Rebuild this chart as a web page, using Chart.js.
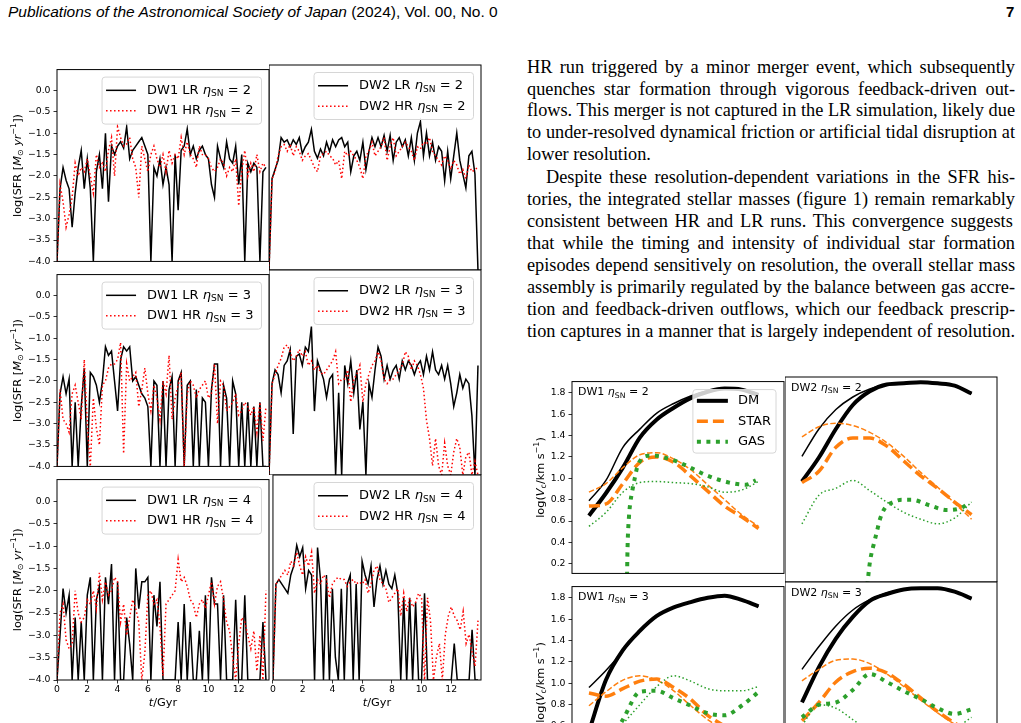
<!DOCTYPE html>
<html>
<head>
<meta charset="utf-8">
<title>SFR histories and rotation curves</title>
<script src="https://cdn.jsdelivr.net/npm/chart.js@4.4.1/dist/chart.umd.min.js"></script>
<style>
  html, body { margin: 0; padding: 0; }
  body { width: 1021px; height: 723px; overflow: hidden; background: #fff; position: relative; color: #000; }
  canvas { position: absolute; }
  #hdr { position: absolute; left: 8px; top: 3px; font: 15.5px "Liberation Sans", sans-serif; white-space: nowrap; }
  #pageno { position: absolute; left: 1006px; top: 3px; font: bold 15px "Liberation Sans", sans-serif; }
  .ln { position: absolute; font: 18.3px "Liberation Serif", serif; line-height: 22px; white-space: nowrap; }
</style>
</head>
<body>
<div id="hdr"><i>Publications of the Astronomical Society of Japan</i> (2024), Vol. 00, No. 0</div>
<div id="pageno">7</div>
<script>
// ---- text column ----
var textLines = [
  [69, 0, true, 'HR run triggered by a minor merger event, which subsequently'],
  [91, 0, true, 'quenches star formation through vigorous feedback-driven out-'],
  [112, 0, true, 'flows. This merger is not captured in the LR simulation, likely due'],
  [134, 0, true, 'to under-resolved dynamical friction or artificial tidal disruption at'],
  [156, 0, false, 'lower resolution.'],
  [179, 19, true, 'Despite these resolution-dependent variations in the SFR his-'],
  [201, 0, true, 'tories, the integrated stellar masses (figure 1) remain remarkably'],
  [223, 0, true, 'consistent between HR and LR runs.  This convergence suggests'],
  [245, 0, true, 'that while the timing and intensity of individual star formation'],
  [267, 0, true, 'episodes depend sensitively on resolution, the overall stellar mass'],
  [289, 0, true, 'assembly is primarily regulated by the balance between gas accre-'],
  [311, 0, true, 'tion and feedback-driven outflows, which our feedback prescrip-'],
  [333, 0, true, 'tion captures in a manner that is largely independent of resolution.']
];

// ---- SFR histories (log SFR per 0.2 Gyr) ----
var times = [0, 0.2, 0.4, 0.6, 0.8, 1.0, 1.2, 1.4, 1.6, 1.8,
  2.0, 2.2, 2.4, 2.6, 2.8, 3.0, 3.2, 3.4, 3.6, 3.8,
  4.0, 4.2, 4.4, 4.6, 4.8, 5.0, 5.2, 5.4, 5.6, 5.8,
  6.0, 6.2, 6.4, 6.6, 6.8, 7.0, 7.2, 7.4, 7.6, 7.8,
  8.0, 8.2, 8.4, 8.6, 8.8, 9.0, 9.2, 9.4, 9.6, 9.8,
  10.0, 10.2, 10.4, 10.6, 10.8, 11.0, 11.2, 11.4, 11.6, 11.8,
  12.0, 12.2, 12.4, 12.6, 12.8, 13.0, 13.2, 13.4, 13.6, 13.8];
var timeTicks = [0, 2, 4, 6, 8, 10, 12];
var sfrTicks = [0, -0.5, -1, -1.5, -2, -2.5, -3, -3.5, -4];

var dw1LR2 = [-4, -2.3, -1.8, -2.1, -2.3, -3.2, -2.4, -1.8, -1.4, -2.3,
  -1.6, -2.3, -4, -1.9, -1.5, -2.3, -1.0, -2.6, -1.3, -1.5,
  -1.3, -1.2, -1.35, -0.85, -1.6, -1.4, -1.3, -1.2, -1.1, -1.3,
  -1.5, -4, -1.8, -2.0, -1.6, -2.2, -1.8, -2.2, -4, -1.5,
  -2.8, -1.4, -1.3, -0.9, -1.5, -1.3, -1.6, -1.4, -1.3, -1.5,
  -1.6, -2.2, -2.5, -1.3, -1.6, -1.8, -1.2, -1.6, -1.7, -1.3,
  -2.2, -1.5, -4, -1.7, -1.9, -1.7, -1.8, -4, -1.9, -1.8];
var dw1HR2 = [-4, -2.2, -2.6, -3.2, -2.9, -2.5, -1.7, -2.0, -1.8, -1.9,
  -1.6, -2.0, -2.4, -1.5, -1.8, -1.7, -1.9, -1.4, -1.1, -2.0,
  -0.85, -1.1, -1.3, -1.25, -1.1, -1.6, -1.8, -2.5, -1.3, -1.6,
  -1.9, -1.5, -1.3, -1.6, -1.8, -1.5, -1.9, -1.4, -1.7, -1.5,
  -1.6, -1.1, -1.5, -1.2, -1.5, -1.6, -1.8, -1.3, -1.5, -1.5,
  -1.6, -1.8, -1.9, -1.8, -1.6, -1.7, -2.0, -1.8, -1.9, -1.6,
  -2.7, -1.9, -1.4, -2.0, -1.7, -1.9, -1.5, -1.9, -1.7, -1.8];
var dw2LR2 = [-4, -2.0, -1.8, -1.6, -1.1, -1.2, -1.15, -1.3, -1.15, -1.25,
  -1.1, -1.45, -1.3, -1.2, -0.92, -1.4, -1.55, -1.35, -1.5, -1.2,
  -1.4, -1.15, -1.3, -1.15, -1.1, -1.3, -1.2, -1.85, -1.5, -1.4,
  -1.6, -1.2, -1.8, -1.4, -1.1, -1.3, -1.1, -1.3, -1.05, -1.4,
  -1.05, -1.6, -1.2, -1.1, -1.3, -1.15, -1.5, -1.1, -1.6, -1.0,
  -0.75, -1.5, -1.0, -1.5, -1.2, -1.6, -1.3, -1.4, -2.05, -1.4,
  -2.0, -1.5, -1.0, -1.6, -1.9, -2.2, -1.5, -1.4, -1.9, -4];
var dw2HR2 = [-4, -2.0, -1.85, -1.5, -1.3, -1.25, -1.4, -1.25, -1.5, -1.3,
  -1.4, -1.6, -1.5, -1.45, -1.6, -1.75, -1.85, -1.5, -1.45, -1.4,
  -1.5, -1.55, -1.7, -1.6, -2.0, -1.4, -1.5, -1.4, -1.5, -1.6,
  -1.75, -2.0, -1.5, -1.4, -1.2, -1.5, -1.4, -1.3, -1.1, -1.6,
  -1.3, -1.1, -1.5, -1.4, -1.3, -1.2, -1.3, -1.4, -1.6, -1.3,
  -1.35, -1.2, -1.25, -1.1, -1.4, -1.5, -1.6, -1.7, -1.5, -1.6,
  -1.8, -1.6, -1.7, -1.9, -1.8, -2.0, -1.7, -1.85, -1.8, -1.75];
var dw1LR3 = [-4, -2.3, -1.9, -2.3, -1.95, -4, -2.5, -4, -2.6, -1.7,
  -4, -1.8, -1.9, -2.1, -2.5, -2.0, -1.2, -1.4, -1.3, -2.0,
  -2.7, -1.5, -1.2, -1.3, -1.2, -2.0, -1.9, -2.1, -2.3, -2.4,
  -2.6, -4, -2.0, -2.1, -4, -2.0, -4, -2.2, -1.9, -4,
  -2.0, -1.8, -4, -2.1, -2.0, -4, -2.2, -4, -2.4, -2.5,
  -4, -2.2, -1.6, -1.6, -4, -2.1, -2.4, -4, -2.0, -2.3,
  -4, -2.5, -4, -2.5, -4, -2.6, -4, -2.5, -4, -4];
var dw1HR3 = [-4, -2.2, -2.9, -3.0, -3.2, -2.3, -2.1, -2.5, -2.9, -1.5,
  -3.0, -4, -2.4, -3.1, -3.5, -2.1, -2.0, -1.7, -1.6, -1.6,
  -1.5, -1.1, -3.7, -1.6, -2.0, -1.9, -1.8, -2.6, -2.2, -1.7,
  -2.3, -2.7, -2.1, -2.4, -2.9, -2.0, -2.3, -1.4, -2.9, -2.4,
  -2.1, -1.8, -4, -2.3, -2.0, -2.1, -2.4, -2.2, -2.1, -2.0,
  -2.4, -2.3, -1.6, -3.0, -2.0, -2.1, -2.7, -2.6, -2.5, -2.3,
  -2.8, -2.7, -2.5, -2.6, -2.8, -2.6, -3.2, -2.5, -3.4, -2.6];
var dw2LR3 = [-4, -2.0, -1.7, -1.8, -2.2, -1.6, -1.5, -1.25, -3.1, -1.4,
  -1.35, -1.6, -1.2, -1.3, -0.75, -2.6, -1.5, -1.7, -1.9, -2.3,
  -1.9, -1.8, -4, -2.2, -4, -1.6, -2.0, -1.5, -2.2, -1.7,
  -3.0, -2.4, -4, -2.0, -2.3, -1.7, -1.2, -1.4, -1.9, -1.6,
  -1.9, -1.7, -1.6, -1.9, -1.5, -1.7, -1.5, -1.6, -1.8, -1.6,
  -1.5, -1.8, -1.4, -1.7, -1.3, -1.7, -1.8, -1.6, -1.9, -1.6,
  -2.0, -2.5, -2.2, -1.8, -2.1, -1.9, -2.0, -2.7, -4, -1.6];
var dw2HR3 = [-4, -2.0, -1.8, -1.6, -1.45, -1.2, -1.15, -1.3, -1.5, -1.4,
  -1.25, -1.4, -1.3, -1.6, -1.5, -1.7, -1.6, -1.75, -1.8, -1.7,
  -1.6, -1.5, -1.3, -2.0, -1.9, -1.9, -1.7, -2.4, -1.9, -1.8,
  -1.6, -2.4, -2.0, -1.8, -1.6, -1.5, -1.3, -1.5, -1.9, -2.0,
  -1.9, -1.9, -1.8, -1.7, -1.6, -1.3, -1.4, -1.7, -1.5, -1.6,
  -1.8, -2.1, -2.8, -3.2, -3.8, -3.2, -3.8, -4, -3.3, -3.8,
  -4, -3.5, -3.2, -3.4, -4, -3.6, -3.5, -4, -3.7, -4];
var dw1LR4 = [-4, -3.0, -1.95, -2.5, -2.1, -4, -2.6, -4, -2.7, -4,
  -2.1, -1.7, -4, -2.2, -1.9, -4, -1.7, -2.3, -1.4, -4,
  -1.8, -4, -4, -2.6, -3.2, -4, -1.5, -2.4, -1.8, -1.8,
  -1.7, -4, -2.1, -2.8, -1.8, -4, -4, -4, -4, -4,
  -2.7, -4, -2.3, -4, -2.7, -4, -4, -2.9, -4, -2.1,
  -4, -1.7, -2.3, -2.3, -4, -2.1, -4, -4, -4, -2.2,
  -4, -4, -2.1, -4, -4, -4, -4, -4, -2.7, -4];
var dw1HR4 = [-4, -2.5, -2.3, -3.1, -3.3, -3.2, -2.0, -2.5, -2.7, -2.6,
  -2.2, -2.3, -2.0, -2.4, -1.6, -2.2, -1.8, -2.1, -2.0, -1.7,
  -1.8, -2.7, -2.3, -3.0, -2.6, -2.2, -2.4, -2.7, -4, -3.4,
  -2.1, -2.0, -2.3, -2.2, -2.8, -3.9, -2.3, -2.2, -2.1, -2.0,
  -1.3, -1.8, -1.7, -1.9, -2.2, -2.3, -2.6, -2.3, -2.2, -2.4,
  -2.1, -1.8, -2.3, -1.9, -1.8, -2.2, -2.7, -2.9, -3.5, -4,
  -3.2, -2.6, -2.7, -3.0, -3.3, -2.9, -3.8, -3.0, -4, -2.0];
var dw2LR4 = [-4, -1.9, -1.8, -1.9, -2.0, -2.1, -1.7, -1.5, -1.05, -1.3,
  -1.1, -2.0, -1.6, -1.7, -4, -1.1, -1.8, -4, -1.7, -4,
  -2.0, -3.5, -4, -2.0, -4, -1.9, -1.7, -4, -1.9, -4,
  -1.4, -1.7, -1.9, -1.5, -2.4, -1.8, -1.5, -1.9, -1.6, -1.9,
  -2.0, -1.7, -2.1, -4, -2.2, -4, -2.2, -4, -2.3, -4,
  -4, -2.1, -4, -4, -4, -4, -4, -4, -4, -4,
  -4, -3.2, -4, -4, -4, -4, -4, -2.9, -4, -4];
var dw2HR4 = [-4, -1.9, -1.8, -1.7, -1.6, -1.7, -1.4, -1.5, -1.2, -1.5,
  -1.7, -1.3, -1.5, -1.2, -2.1, -1.8, -1.9, -1.7, -1.8, -2.2,
  -1.9, -1.8, -1.75, -1.8, -1.8, -1.95, -1.85, -1.8, -1.9, -1.85,
  -1.9, -1.8, -2.1, -1.9, -1.6, -1.5, -1.8, -1.9, -2.0, -2.3,
  -2.2, -2.1, -2.0, -2.6, -2.1, -2.5, -2.2, -2.4, -2.3, -2.1,
  -2.2, -4, -2.2, -2.7, -4, -3.5, -3.2, -4, -3.0, -2.6,
  -2.4, -2.6, -2.7, -2.9, -2.5, -3.2, -3.0, -3.4, -3.7, -2.7];

// ---- rotation curves, log(Vc) on a radius grid ----
var radius = [0.08, 0.16, 0.24, 0.32, 0.40, 0.48, 0.56, 0.64, 0.72, 0.80, 0.88];
var vcTicks = [0.2, 0.4, 0.6, 0.8, 1.0, 1.2, 1.4, 1.6, 1.8];

var dw1e2DmThick = [0.65, 0.86, 1.10, 1.38, 1.55, 1.66, 1.75, 1.81, 1.84, 1.83, 1.78];
var dw1e2DmThin = [0.79, 0.98, 1.29, 1.46, 1.61, 1.70, 1.77, 1.82, 1.84, 1.83, 1.79];
var dw1e2StarThick = [0.74, 0.76, 0.95, 1.15, 1.20, 1.15, 1.02, 0.88, 0.74, 0.64, 0.53];
var dw1e2StarThin = [0.87, 0.95, 1.10, 1.22, 1.24, 1.18, 1.08, 0.94, 0.80, 0.66, 0.55];
var dw1e2GasThickR = [0.259, 0.262, 0.269, 0.275, 0.285, 0.296, 0.307, 0.327, 0.358, 0.397, 0.444, 0.491, 0.538, 0.632, 0.742, 0.82, 0.867];
var dw1e2GasThick = [0.0, 0.35, 0.65, 0.77, 0.89, 1.0, 1.10, 1.18, 1.21, 1.21, 1.19, 1.16, 1.12, 1.03, 0.96, 0.94, 0.98];
var dw1e2GasThin = [0.55, 0.68, 0.87, 0.96, 0.97, 0.96, 0.95, 0.92, 0.87, 0.89, 0.97];

var dw2e2DmThick = [0.99, 1.20, 1.45, 1.66, 1.78, 1.84, 1.85, 1.86, 1.85, 1.83, 1.76];
var dw2e2DmThin = [1.21, 1.45, 1.62, 1.73, 1.80, 1.84, 1.85, 1.86, 1.85, 1.83, 1.76];
var dw2e2StarThick = [0.98, 1.08, 1.29, 1.37, 1.37, 1.30, 1.17, 1.04, 0.93, 0.81, 0.70];
var dw2e2StarThin = [1.38, 1.47, 1.50, 1.48, 1.42, 1.33, 1.21, 1.07, 0.94, 0.80, 0.66];
var dw2e2GasThickR = [0.388, 0.401, 0.420, 0.432, 0.448, 0.472, 0.511, 0.550, 0.597, 0.684, 0.763, 0.833, 0.873];
var dw2e2GasThick = [0.08, 0.29, 0.45, 0.54, 0.66, 0.76, 0.81, 0.83, 0.83, 0.78, 0.74, 0.76, 0.81];
var dw2e2GasThin = [0.62, 0.87, 0.93, 1.00, 0.91, 0.81, 0.72, 0.66, 0.62, 0.67, 0.81];

var dw1e3DmThick = [0.55, 1.03, 1.31, 1.49, 1.63, 1.71, 1.76, 1.80, 1.82, 1.78, 1.72];
var dw1e3DmThin = [0.96, 1.12, 1.30, 1.50, 1.63, 1.71, 1.76, 1.80, 1.82, 1.78, 1.72];
var dw1e3StarThick = [0.91, 0.88, 0.95, 1.02, 1.04, 0.96, 0.85, 0.70, 0.60, 0.52, 0.45];
var dw1e3StarThin = [0.79, 0.92, 1.03, 1.07, 1.03, 0.93, 0.79, 0.66, 0.56, 0.50, 0.45];
var dw1e3GasThick = [0.2, 0.4, 0.66, 0.92, 0.93, 0.86, 0.79, 0.72, 0.70, 0.79, 0.92];
var dw1e3GasThin = [0.3, 0.45, 0.62, 0.80, 0.97, 1.07, 1.02, 0.95, 0.93, 0.93, 0.97];

var dw2e3DmThick = [0.85, 1.16, 1.41, 1.60, 1.74, 1.80, 1.84, 1.85, 1.85, 1.82, 1.76];
var dw2e3DmThin = [1.14, 1.34, 1.52, 1.66, 1.75, 1.81, 1.84, 1.85, 1.85, 1.82, 1.76];
var dw2e3StarThick = [0.69, 0.85, 1.03, 1.12, 1.15, 1.11, 1.01, 0.89, 0.77, 0.67, 0.58];
var dw2e3StarThin = [1.04, 1.14, 1.22, 1.23, 1.19, 1.10, 0.99, 0.87, 0.76, 0.66, 0.58];
var dw2e3GasThick = [0.72, 0.83, 0.85, 0.96, 1.10, 1.03, 0.95, 0.88, 0.80, 0.75, 0.79];
var dw2e3GasThin = [0.65, 0.83, 0.80, 0.70, 0.60, 0.52, 0.48, 0.50, 0.55, 0.62, 0.72];

// ---- page text ----
textLines.forEach(function (l) {
  var d = document.createElement('div');
  d.className = 'ln';
  d.style.top = (l[0] - 13) + 'px';
  d.style.left = (527 + l[1]) + 'px';
  var s = document.createElement('span');
  s.textContent = l[3];
  d.appendChild(s);
  document.body.appendChild(d);
  if (l[2]) {
    var gaps = l[3].split(' ').length - 1;
    var extra = 488 - l[1] - s.getBoundingClientRect().width;
    s.style.wordSpacing = (extra / gaps) + 'px';
  }
});

// ---- helpers ----
Chart.defaults.font.family = '"DejaVu Sans", sans-serif';
Chart.defaults.color = '#000';

function place(left, top, w, h) {
  var c = document.createElement('canvas');
  c.width = w; c.height = h;
  c.style.left = left + 'px'; c.style.top = top + 'px';
  c.style.width = w + 'px'; c.style.height = h + 'px';
  document.body.appendChild(c);
  return c.getContext('2d');
}

function pts(xs, ys) {
  return xs.map(function (x, i) { return { x: x, y: ys[i] }; });
}

function fmt1(v) {
  return (v < 0 ? '\u2212' : '') + Math.abs(v).toFixed(1);
}

function partFont(p, size) {
  return (p.i ? 'italic ' : '') + (p.s ? size * 0.7 : size) + 'px "DejaVu Sans"';
}

function richWidth(ctx, parts, size) {
  var w = 0;
  parts.forEach(function (p) { ctx.font = partFont(p, size); w += ctx.measureText(p.t).width; });
  return w;
}

// x = left edge, y = middle line
function drawRich(ctx, parts, x, y, size) {
  ctx.textBaseline = 'middle';
  ctx.textAlign = 'left';
  parts.forEach(function (p) {
    ctx.font = partFont(p, size);
    var dy = p.s === -1 ? size * 0.28 : (p.s === 1 ? -size * 0.38 : 0);
    ctx.fillText(p.t, x, y + dy);
    x += ctx.measureText(p.t).width;
  });
}

function drawLegend(ctx, a, lg) {
  var tw = 0;
  lg.items.forEach(function (it) { tw = Math.max(tw, richWidth(ctx, it.parts, lg.size)); });
  var w = lg.padL + lg.sample + lg.gap + tw + lg.padR;
  var h = lg.items.length * lg.rowH + lg.padV * 2;
  var x0 = a.right - lg.inset - w, y0 = a.top + lg.inset, r = 3;
  ctx.beginPath();
  ctx.moveTo(x0 + r, y0);
  ctx.arcTo(x0 + w, y0, x0 + w, y0 + h, r);
  ctx.arcTo(x0 + w, y0 + h, x0, y0 + h, r);
  ctx.arcTo(x0, y0 + h, x0, y0, r);
  ctx.arcTo(x0, y0, x0 + w, y0, r);
  ctx.closePath();
  ctx.fillStyle = 'rgba(255,255,255,0.8)';
  ctx.fill();
  ctx.strokeStyle = '#d6d6d6';
  ctx.lineWidth = 1;
  ctx.stroke();
  lg.items.forEach(function (it, i) {
    var cy = y0 + lg.padV + lg.rowH * (i + 0.5);
    ctx.beginPath();
    ctx.setLineDash(it.dash || []);
    ctx.lineWidth = it.width;
    ctx.strokeStyle = it.color;
    ctx.lineCap = 'butt';
    ctx.moveTo(x0 + lg.padL, cy);
    ctx.lineTo(x0 + lg.padL + lg.sample, cy);
    ctx.stroke();
    ctx.setLineDash([]);
    ctx.fillStyle = '#000';
    drawRich(ctx, it.parts, x0 + lg.padL + lg.sample + lg.gap, cy, lg.size);
  });
}

// frame, axis titles, panel label and legend
function deco(opt) {
  return {
    id: 'deco',
    afterDraw: function (chart) {
      var ctx = chart.ctx, a = chart.chartArea;
      ctx.save();
      ctx.setLineDash([]);
      ctx.strokeStyle = '#000';
      ctx.lineWidth = 1;
      ctx.strokeRect(a.left, a.top, a.right - a.left, a.bottom - a.top);
      ctx.fillStyle = '#000';
      if (opt.yTitle) {
        ctx.save();
        ctx.translate(opt.yTitleX, (a.top + a.bottom) / 2);
        ctx.rotate(-Math.PI / 2);
        var w = richWidth(ctx, opt.yTitle, 11.3);
        drawRich(ctx, opt.yTitle, -w / 2, 0, 11.3);
        ctx.restore();
      }
      if (opt.xTitle) {
        var w2 = richWidth(ctx, opt.xTitle, 11.3);
        drawRich(ctx, opt.xTitle, (a.left + a.right) / 2 - w2 / 2, opt.xTitleY, 11.3);
      }
      if (opt.label) {
        drawRich(ctx, opt.label, a.left + 6, a.top + 11, 11);
      }
      if (opt.legend) drawLegend(ctx, a, opt.legend);
      ctx.restore();
    }
  };
}

function etaParts(prefix, eta) {
  return [{ t: prefix }, { t: '\u03b7', i: 1 }, { t: 'SN', s: -1 }, { t: ' = ' + eta }];
}

var sfrTitle = [{ t: 'log(SFR [' }, { t: 'M', i: 1 }, { t: '\u2299', s: -1 }, { t: ' ' }, { t: 'yr', i: 1 }, { t: '\u22121', s: 1 }, { t: '])' }];
var vcTitle = [{ t: 'log(' }, { t: 'V', i: 1 }, { t: 'c', s: -1 }, { t: '/km s' }, { t: '\u22121', s: 1 }, { t: ')' }];
var tTitle = [{ t: 't', i: 1 }, { t: '/Gyr' }];

var tickFont = { family: '"DejaVu Sans", sans-serif', size: 9.3 };
var tickGrid = { drawOnChartArea: false, drawTicks: true, tickLength: 3.5, color: '#000', lineWidth: 0.8 };

// ---- SFR panels ----
function sfrPanel(px, py, col, row, gal, eta, lr, hr) {
  var yW = col === 0 ? 57 : 0, xH = row === 2 ? 43 : 0;
  var ctx = place(px - yW, py - 4, yW + 212 + 4, 4 + 205 + xH);
  return new Chart(ctx, {
    type: 'line',
    data: {
      datasets: [
        { data: pts(times, lr), borderColor: '#000000', borderWidth: 1.5, order: 2 },
        { data: pts(times, hr), borderColor: '#ff0000', borderWidth: 1.5, borderDash: [1.5, 2.5], order: 1 }
      ]
    },
    options: {
      responsive: false, animation: false, events: [],
      elements: { point: { radius: 0 }, line: { tension: 0, borderCapStyle: 'butt', borderJoinStyle: 'miter' } },
      layout: { padding: { top: 4, right: 4, left: 0, bottom: 0 } },
      scales: {
        x: {
          type: 'linear', min: 0, max: 14, display: row === 2,
          afterFit: function (s) { s.height = xH; },
          afterBuildTicks: function (s) { s.ticks = timeTicks.map(function (v) { return { value: v }; }); },
          ticks: { font: tickFont, color: '#000', padding: 1, maxRotation: 0, autoSkip: false },
          grid: tickGrid, border: { display: false }
        },
        y: {
          min: -4, max: 0.49, display: col === 0,
          afterFit: function (s) { s.width = yW; },
          afterBuildTicks: function (s) { s.ticks = sfrTicks.map(function (v) { return { value: v }; }); },
          ticks: { font: tickFont, color: '#000', padding: 3, autoSkip: false, callback: fmt1 },
          grid: tickGrid, border: { display: false }
        }
      },
      plugins: { legend: { display: false }, tooltip: { enabled: false } }
    },
    plugins: [deco({
      yTitle: col === 0 ? sfrTitle : null, yTitleX: 18,
      xTitle: row === 2 ? tTitle : null, xTitleY: 4 + 205 + 23,
      legend: {
        size: 13, inset: 7.5, padL: 4, sample: 30, gap: 11, padR: 8, rowH: 20.5, padV: 3,
        items: [
          { parts: etaParts(gal + ' LR ', eta), color: '#000', width: 1.5 },
          { parts: etaParts(gal + ' HR ', eta), color: '#ff0000', width: 1.5, dash: [1.5, 2.5] }
        ]
      }
    })]
  });
}

sfrPanel(57, 65, 0, 0, 'DW1', 2, dw1LR2, dw1HR2);
sfrPanel(269, 65, 1, 0, 'DW2', 2, dw2LR2, dw2HR2);
sfrPanel(57, 270, 0, 1, 'DW1', 3, dw1LR3, dw1HR3);
sfrPanel(269, 270, 1, 1, 'DW2', 3, dw2LR3, dw2HR3);
sfrPanel(57, 475, 0, 2, 'DW1', 4, dw1LR4, dw1HR4);
sfrPanel(269, 475, 1, 2, 'DW2', 4, dw2LR4, dw2HR4);

// ---- rotation-curve panels ----
var ORANGE = '#ff7f0e', GREEN = '#2ca02c';

function vcPanel(px, py, col, gal, eta, c, withLegend) {
  var yW = col === 0 ? 42 : 0;
  var ctx = place(px - yW, py - 4, yW + 212 + 4, 4 + 205);
  var smooth = { tension: 0.4, cubicInterpolationMode: 'monotone' };
  function ds(xs, ys, color, width, dash, order) {
    return Object.assign({ data: pts(xs, ys), borderColor: color, borderWidth: width, borderDash: dash, order: order }, smooth);
  }
  return new Chart(ctx, {
    type: 'line',
    data: {
      datasets: [
        ds(radius, c.dmThin, '#000000', 1.5, [], 6),
        ds(radius, c.dmThick, '#000000', 4, [], 5),
        ds(radius, c.starThin, ORANGE, 1.5, [5.5, 2.4], 4),
        ds(radius, c.starThick, ORANGE, 3.5, [11, 5], 3),
        ds(radius, c.gasThin, GREEN, 1.5, [1.5, 2.5], 2),
        ds(c.gasThickR || radius, c.gasThick, GREEN, 4, [4, 5.5], 1)
      ]
    },
    options: {
      responsive: false, animation: false, events: [],
      elements: { point: { radius: 0 }, line: { borderCapStyle: 'butt' } },
      layout: { padding: { top: 4, right: 4, left: 0, bottom: 0 } },
      scales: {
        x: { type: 'linear', min: 0, max: 1, display: false },
        y: {
          min: 0.11, max: 1.905, display: col === 0,
          afterFit: function (s) { s.width = yW; },
          afterBuildTicks: function (s) { s.ticks = vcTicks.map(function (v) { return { value: v }; }); },
          ticks: { font: tickFont, color: '#000', padding: 3, autoSkip: false, callback: fmt1 },
          grid: tickGrid, border: { display: false }
        }
      },
      plugins: { legend: { display: false }, tooltip: { enabled: false } }
    },
    plugins: [deco({
      yTitle: col === 0 ? vcTitle : null, yTitleX: 11,
      label: etaParts(gal + ' ', eta),
      legend: withLegend ? {
        size: 13, inset: 8, padL: 4, sample: 31, gap: 10, padR: 5, rowH: 20.5, padV: 1,
        items: [
          { parts: [{ t: 'DM' }], color: '#000', width: 4 },
          { parts: [{ t: 'STAR' }], color: ORANGE, width: 3.5, dash: [11, 5] },
          { parts: [{ t: 'GAS' }], color: GREEN, width: 4, dash: [4, 5.5] }
        ]
      } : null
    })]
  });
}

vcPanel(572, 377, 0, 'DW1', 2, {
  dmThick: dw1e2DmThick, dmThin: dw1e2DmThin, starThick: dw1e2StarThick, starThin: dw1e2StarThin,
  gasThick: dw1e2GasThick, gasThickR: dw1e2GasThickR, gasThin: dw1e2GasThin
}, true);
vcPanel(785, 377, 1, 'DW2', 2, {
  dmThick: dw2e2DmThick, dmThin: dw2e2DmThin, starThick: dw2e2StarThick, starThin: dw2e2StarThin,
  gasThick: dw2e2GasThick, gasThickR: dw2e2GasThickR, gasThin: dw2e2GasThin
}, false);
vcPanel(572, 582, 0, 'DW1', 3, {
  dmThick: dw1e3DmThick, dmThin: dw1e3DmThin, starThick: dw1e3StarThick, starThin: dw1e3StarThin,
  gasThick: dw1e3GasThick, gasThin: dw1e3GasThin
}, false);
vcPanel(785, 582, 1, 'DW2', 3, {
  dmThick: dw2e3DmThick, dmThin: dw2e3DmThin, starThick: dw2e3StarThick, starThin: dw2e3StarThin,
  gasThick: dw2e3GasThick, gasThin: dw2e3GasThin
}, false);
</script>
</body>
</html>
